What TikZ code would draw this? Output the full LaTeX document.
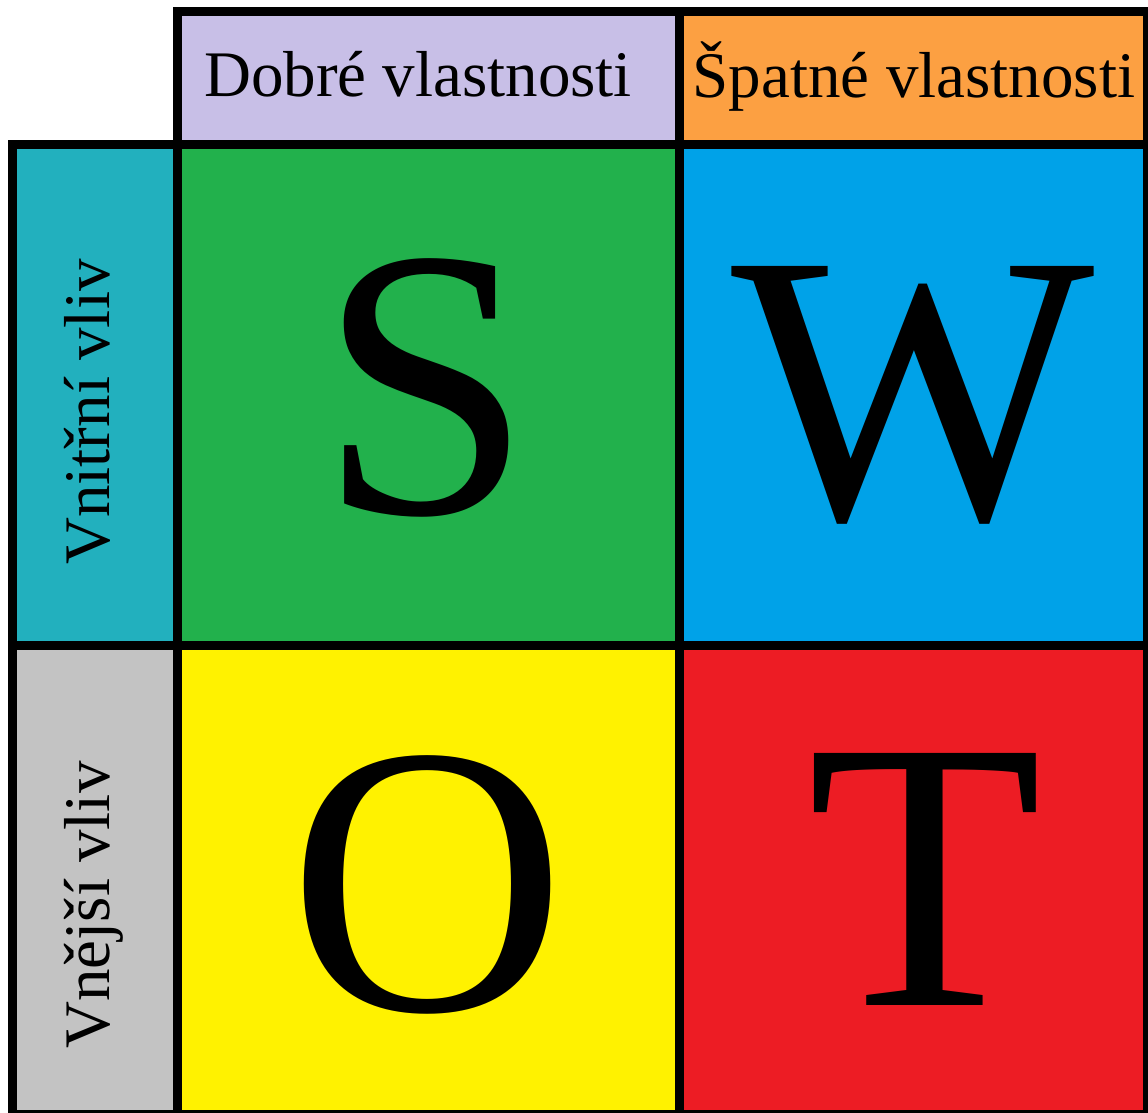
\documentclass[tikz,border=0pt]{standalone}
\usepackage{fontspec}
\setmainfont{Liberation Serif}
\definecolor{lav}{HTML}{C8BFE7}
\definecolor{orng}{HTML}{FCA042}
\definecolor{tealc}{HTML}{22B0BE}
\definecolor{grayc}{HTML}{C3C3C3}
\definecolor{grn}{HTML}{22B14C}
\definecolor{blu}{HTML}{00A2E8}
\definecolor{yel}{HTML}{FFF200}
\definecolor{redc}{HTML}{ED1C24}
\begin{document}
\begin{tikzpicture}[x=1pt,y=-1pt,
  gridline/.style={draw=black,line width=9pt},
  hdr/.style={font=\fontsize{65}{65}\selectfont,anchor=base,inner sep=0pt},
  side/.style={font=\fontsize{65}{65}\selectfont,anchor=base,inner sep=0pt,rotate=90},
  big/.style={font=\fontsize{385}{385}\selectfont,anchor=base,inner sep=0pt}]
\useasboundingbox (0,0) rectangle (1148,1112);
\fill[white] (0,0) rectangle (1148,1112);
% fills
\fill[lav]   (177,11.5) rectangle (679,144);
\fill[orng]  (679,11.5) rectangle (1147,144);
\fill[tealc] (12,144) rectangle (177,645);
\fill[grayc] (12,645) rectangle (177,1114);
\fill[grn]   (177,144) rectangle (679,645);
\fill[blu]   (679,144) rectangle (1147,645);
\fill[yel]   (177,645) rectangle (679,1114);
\fill[redc]  (679,645) rectangle (1147,1114);
% grid
\draw[gridline] (177,11.5) rectangle (1147,1114);
\draw[gridline] (12,144) rectangle (1147,1114);
\draw[gridline] (679,11.5) -- (679,1114);
\draw[gridline] (12,645) -- (1147,645);
\draw[gridline] (177,144) -- (177,1114);
% texts
\node[hdr] (good) at (418,96) {Dobré vlastnosti};
\node[hdr] (bad) at (914,97) {Špatné vlastnosti};
\node[side] (inner) at (109,412) {Vnitřní vliv};
\node[side] (outer) at (109,905) {Vnější vliv};
\node[big] (S) at (426,513) {S};
\node[big] (W) at (913,518) {W};
\node[big] (O) at (428,1010) {O};
\node[big] (T) at (925,1005) {T};
\end{tikzpicture}
\end{document}
